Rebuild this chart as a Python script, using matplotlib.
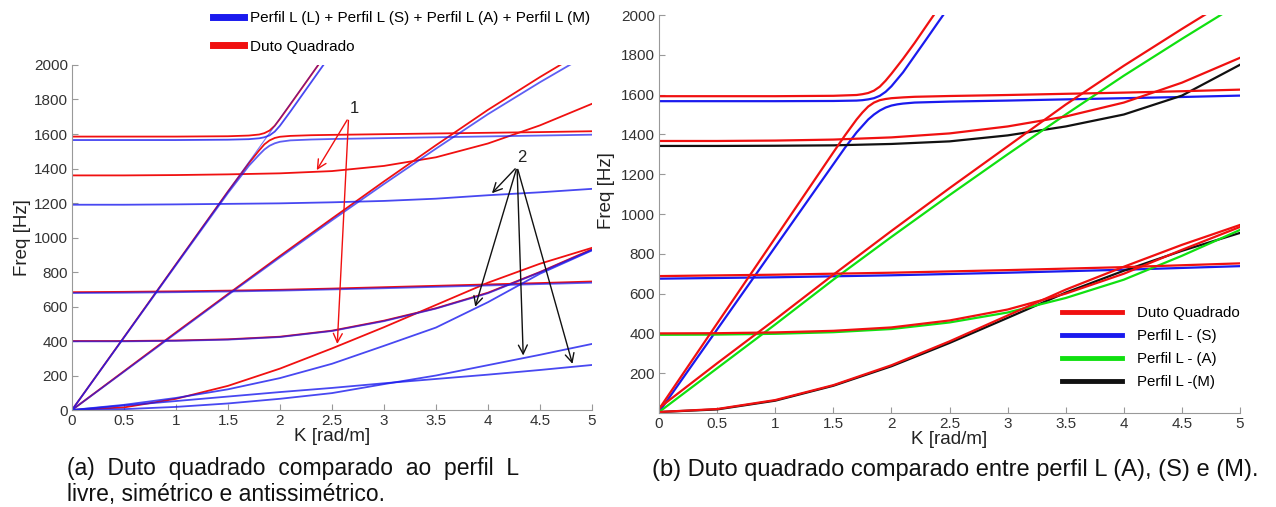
import matplotlib
matplotlib.use('Agg')
import matplotlib.pyplot as plt
from matplotlib.lines import Line2D

plt.rcParams['font.family'] = ['Liberation Sans', 'DejaVu Sans']

# common wavenumber grid (rad/m)
K_grid = [0, 0.5, 1, 1.5, 2, 2.5, 3, 3.5, 4, 4.5, 5]

# ---------------- panel (a): duto quadrado vs perfil L (all) ----------------
red_a_1360 = [1360, 1360, 1362, 1366, 1372, 1385, 1415, 1465, 1545, 1650, 1775]
blue_a_1190 = [1190, 1190, 1192, 1195, 1198, 1204, 1212, 1225, 1245, 1262, 1282]
red_a_680 = [683, 685, 688, 692, 697, 704, 712, 720, 728, 736, 745]
blue_a_680 = [678, 680, 683, 687, 692, 699, 706, 714, 722, 730, 738]
red_a_400 = [400, 400, 403, 410, 425, 460, 518, 590, 680, 800, 932]
blue_a_400 = [398, 398, 401, 408, 423, 458, 515, 588, 677, 798, 928]
red_a_low = [0, 15, 65, 140, 240, 357, 480, 609, 738, 848, 940]
blue_a_low = [0, 30, 70, 120, 185, 268, 372, 478, 625, 790, 925]
blue_a_lineA = [0, 5, 18, 38, 65, 98, 150, 200, 260, 320, 383]
blue_a_lineB = [0, 26, 52, 78, 104, 128, 155, 180, 205, 232, 261]
red_a_diag = [0, 225, 450, 672, 893, 1110, 1325, 1535, 1740, 1930, 2110]
blue_a_diag = [0, 222, 445, 667, 885, 1100, 1310, 1515, 1715, 1900, 2075]

# avoided crossing near K = 1.9
K_up_a = [0, 0.5, 1, 1.5, 1.7, 1.8, 1.85, 1.9, 1.95, 2.0, 2.1, 2.2, 2.3, 2.4, 2.5]
red_a_upper = [1585, 1585, 1585, 1587, 1591, 1597, 1605, 1620, 1648, 1688, 1772, 1857, 1942, 2027, 2112]
blue_a_upper = [1565, 1565, 1565, 1567, 1570, 1575, 1581, 1592, 1614, 1648, 1730, 1815, 1900, 1985, 2070]
K_low_a = [0, 0.5, 1, 1.5, 1.7, 1.8, 1.85, 1.9, 1.95, 2.0, 2.1, 2.3, 2.5, 3, 3.5, 4, 4.5, 5]
red_a_lower = [0, 422, 845, 1267, 1430, 1505, 1540, 1563, 1577, 1584, 1589, 1593, 1595, 1599, 1603, 1607, 1611, 1616]
blue_a_lower = [0, 420, 840, 1258, 1415, 1480, 1510, 1532, 1546, 1555, 1563, 1568, 1571, 1576, 1581, 1586, 1591, 1596]
K_str_a = [0, 0.5, 1, 1.5, 2, 2.5]
blue_a_straight = [0, 422, 845, 1267, 1690, 2112]

# ---------------- panel (b): duto quadrado vs perfil L (S), (A), (M) ----------------
K_up_b = [0, 0.5, 1, 1.5, 1.7, 1.75, 1.8, 1.85, 1.9, 1.95, 2.0, 2.1, 2.2, 2.3, 2.4, 2.5]
red_b_upper = [1592, 1592, 1592, 1594, 1598, 1602, 1608, 1620, 1640, 1670, 1705, 1780, 1860, 1945, 2030, 2115]
blue_b_upper = [1567, 1567, 1567, 1568, 1570, 1572, 1576, 1582, 1594, 1614, 1642, 1712, 1795, 1878, 1962, 2045]
K_low_b_red = [0, 0.5, 1, 1.5, 1.6, 1.7, 1.75, 1.8, 1.85, 1.9, 1.95, 2.0, 2.1, 2.2, 2.5, 3, 3.5, 4, 4.5, 5]
red_b_lower = [20, 450, 880, 1310, 1395, 1475, 1510, 1540, 1560, 1572, 1578, 1582, 1586, 1589, 1593, 1598, 1604, 1610, 1617, 1625]
K_low_b_blue = [0, 0.5, 1, 1.5, 1.6, 1.7, 1.8, 1.85, 1.9, 1.95, 2.0, 2.05, 2.1, 2.2, 2.5, 3, 3.5, 4, 4.5, 5]
blue_b_lower = [5, 420, 835, 1250, 1333, 1410, 1475, 1500, 1520, 1535, 1545, 1551, 1555, 1560, 1565, 1570, 1576, 1582, 1588, 1595]
red_b_1360 = [1367, 1367, 1369, 1374, 1385, 1405, 1440, 1490, 1560, 1660, 1785]
black_b_1340 = [1342, 1342, 1343, 1345, 1352, 1365, 1395, 1440, 1500, 1595, 1750]
red_b_diag = [25, 250, 470, 695, 915, 1130, 1340, 1550, 1745, 1930, 2110]
green_b_diag = [5, 225, 445, 670, 885, 1095, 1300, 1500, 1695, 1880, 2060]
K_680_b = [0, 1, 2, 3, 4, 5]
red_b_680 = [688, 695, 705, 718, 733, 752]
blue_b_680 = [675, 682, 692, 705, 720, 738]
red_b_400 = [400, 401, 405, 413, 430, 465, 520, 600, 700, 820, 935]
green_b_400 = [393, 394, 398, 406, 422, 455, 505, 578, 670, 790, 920]
red_b_low = [5, 20, 65, 140, 240, 360, 490, 620, 735, 845, 945]
black_b_low = [5, 18, 62, 137, 235, 352, 478, 605, 715, 815, 905]

RED = '#f01010'
BLUE = '#1a1aee'
GREEN = '#10e010'
BLACK = '#111111'


def style_axes(ax, yticks):
	ax.set_xlim(0, 5)
	ax.set_ylim(0, 2000)
	ax.set_xticks([0, 0.5, 1, 1.5, 2, 2.5, 3, 3.5, 4, 4.5, 5])
	ax.set_xticklabels(['0', '0.5', '1', '1.5', '2', '2.5', '3', '3.5', '4', '4.5', '5'])
	ax.set_yticks(yticks)
	for s in ['top', 'right']:
		ax.spines[s].set_visible(False)
	for s in ['left', 'bottom']:
		ax.spines[s].set_color('#999999')
	ax.tick_params(direction='in', length=4, color='#999999', labelcolor='#333333', labelsize=11, pad=3)
	ax.set_xlabel('K [rad/m]', fontsize=13.5, color='#222222', labelpad=0)
	ax.set_ylabel('Freq [Hz]', fontsize=13.5, color='#222222', labelpad=2)


fig = plt.figure(figsize=(12.76, 5.07), dpi=100)

#########################################################################
# Panel (a)
#########################################################################
ax1 = fig.add_axes([0.0564, 0.1913, 0.4075, 0.6805])
lw = 1.3
ax1.plot(K_grid, red_a_1360, color=RED, lw=lw)
ax1.plot(K_grid, red_a_680, color=RED, lw=lw)
ax1.plot(K_grid, red_a_400, color=RED, lw=lw)
ax1.plot(K_grid, red_a_low, color=RED, lw=lw)
ax1.plot(K_grid, red_a_diag, color=RED, lw=lw)
ax1.plot(K_up_a, red_a_upper, color=RED, lw=lw)
ax1.plot(K_low_a, red_a_lower, color=RED, lw=lw)

ax1.plot(K_grid, blue_a_1190, color=BLUE, lw=lw, alpha=0.8)
ax1.plot(K_grid, blue_a_680, color=BLUE, lw=lw, alpha=0.7)
ax1.plot(K_grid, blue_a_400, color=BLUE, lw=lw, alpha=0.7)
ax1.plot(K_grid, blue_a_low, color=BLUE, lw=lw, alpha=0.8)
ax1.plot(K_grid, blue_a_lineA, color=BLUE, lw=lw, alpha=0.8)
ax1.plot(K_grid, blue_a_lineB, color=BLUE, lw=lw, alpha=0.8)
ax1.plot(K_grid, blue_a_diag, color=BLUE, lw=lw, alpha=0.7)
ax1.plot(K_up_a, blue_a_upper, color=BLUE, lw=lw, alpha=0.8)
ax1.plot(K_low_a, blue_a_lower, color=BLUE, lw=lw, alpha=0.7)
ax1.plot(K_str_a, blue_a_straight, color=BLUE, lw=0.8, alpha=0.6)

style_axes(ax1, list(range(0, 2001, 200)))

# annotation 1 (red arrows)
ax1.text(2.72, 1745, '1', fontsize=12, color='#222222', ha='center', va='center')
for tip in [(2.34, 1377), (2.55, 367)]:
	ax1.annotate('', xy=tip, xytext=(2.66, 1695),
		arrowprops=dict(arrowstyle='->', color=RED, lw=1, mutation_scale=16))

# annotation 2 (black arrows)
ax1.text(4.33, 1462, '2', fontsize=12, color='#222222', ha='center', va='center')
for tip in [(4.02, 1245), (3.87, 583), (4.34, 300), (4.82, 252)]:
	ax1.annotate('', xy=tip, xytext=(4.28, 1410),
		arrowprops=dict(arrowstyle='->', color=BLACK, lw=1, mutation_scale=16))

# legend of panel (a), above the axes
handles_a = [Line2D([], [], color=BLUE, lw=5), Line2D([], [], color=RED, lw=5)]
labels_a = ['Perfil L (L) + Perfil L (S) + Perfil L (A) + Perfil L (M)', 'Duto Quadrado']
fig.legend(handles_a, labels_a, loc='upper left', bbox_to_anchor=(213 / 1276, 1 - 11 / 507),
	frameon=False, fontsize=11, handlelength=2.0, handletextpad=0.4, labelspacing=0.95,
	borderpad=0, borderaxespad=0)

#########################################################################
# Panel (b)
#########################################################################
ax2 = fig.add_axes([0.5165, 0.1854, 0.4553, 0.785])
lw = 1.6
ax2.plot(K_up_b, blue_b_upper, color=BLUE, lw=lw)
ax2.plot(K_low_b_blue, blue_b_lower, color=BLUE, lw=lw)
ax2.plot(K_680_b, blue_b_680, color=BLUE, lw=lw, label='Perfil L - (S)')
ax2.plot(K_grid, black_b_1340, color=BLACK, lw=lw)
ax2.plot(K_grid, black_b_low, color=BLACK, lw=lw, label='Perfil L -(M)')
ax2.plot(K_grid, green_b_diag, color=GREEN, lw=lw)
ax2.plot(K_grid, green_b_400, color=GREEN, lw=lw, label='Perfil L - (A)')
ax2.plot(K_up_b, red_b_upper, color=RED, lw=lw)
ax2.plot(K_low_b_red, red_b_lower, color=RED, lw=lw)
ax2.plot(K_grid, red_b_1360, color=RED, lw=lw)
ax2.plot(K_grid, red_b_diag, color=RED, lw=lw)
ax2.plot(K_680_b, red_b_680, color=RED, lw=lw)
ax2.plot(K_grid, red_b_400, color=RED, lw=lw)
ax2.plot(K_grid, red_b_low, color=RED, lw=lw, label='Duto Quadrado')

style_axes(ax2, list(range(200, 2001, 200)))
ax2.yaxis.set_label_coords(-0.075, 0.56)

h, l = ax2.get_legend_handles_labels()
order = [l.index('Duto Quadrado'), l.index('Perfil L - (S)'), l.index('Perfil L - (A)'), l.index('Perfil L -(M)')]
leg_handles = [Line2D([], [], color=h[i].get_color(), lw=3.5) for i in order]
ax2.legend(leg_handles, [l[i] for i in order], loc='lower right', bbox_to_anchor=(1.0, 0.06),
	frameon=False, fontsize=10.8, handlelength=4.0, handletextpad=1.0, labelspacing=0.6,
	borderpad=0, borderaxespad=0)

#########################################################################
# Captions
#########################################################################
fig.text(67 / 1276, 1 - 468 / 507, '(a)  Duto  quadrado  comparado  ao  perfil  L', fontsize=16.5,
	va='center', ha='left', color='#111111')
fig.text(67 / 1276, 1 - 494 / 507, 'livre, simétrico e antissimétrico.', fontsize=16.5,
	va='center', ha='left', color='#111111')
fig.text(652 / 1276, 1 - 470 / 507, '(b) Duto quadrado comparado entre perfil L (A), (S) e (M).', fontsize=17,
	va='center', ha='left', color='#111111')

fig.savefig('out.png', dpi=100)
